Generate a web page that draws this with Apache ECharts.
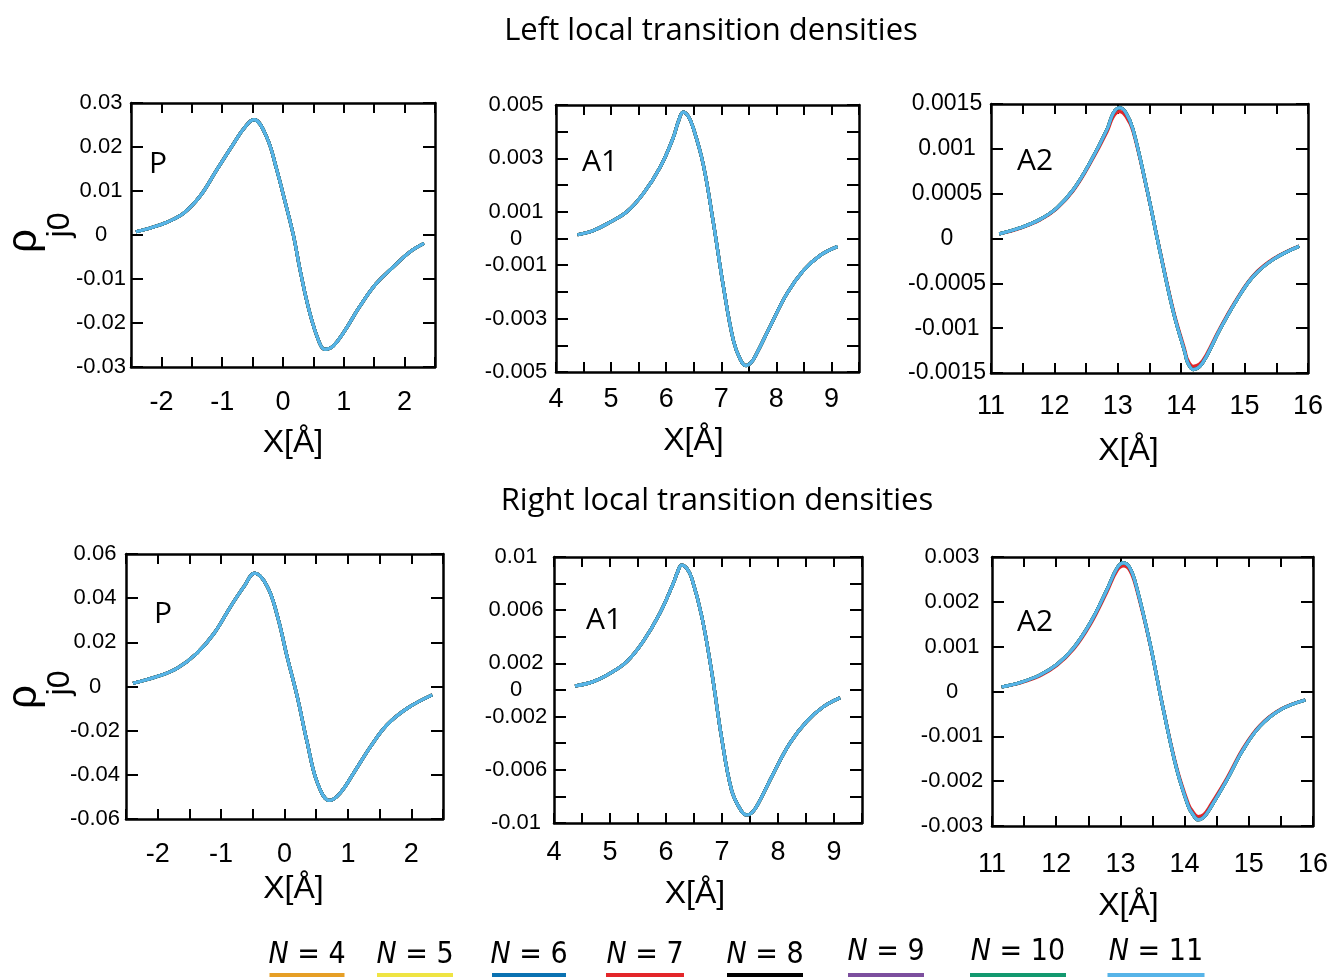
<!DOCTYPE html>
<html>
<head>
<meta charset="utf-8">
<title>Local transition densities</title>
<script src="https://cdn.jsdelivr.net/npm/echarts@6/dist/echarts.min.js"></script>
<style>
  html, body { margin: 0; padding: 0; background: #fff; }
  #chart { width: 1333px; height: 977px; }
</style>
</head>
<body>
<div id="chart"></div>
<script>
// one curve per N in every panel
var nValues = [4, 5, 6, 7, 8, 9, 10, 11]
var nColors = ['#E69F26', '#EFE443', '#0A72B2', '#E3262A', '#000000', '#7C4F9E', '#13996F', '#57B4E8']

// ---- left local transition densities ----
var leftP_x = [-2.42, -2.18, -1.91, -1.63, -1.36, -1.09, -0.81, -0.65, -0.48, -0.27, -0.10, 0.0, 0.17, 0.28, 0.44, 0.60, 0.69, 0.82, 0.99, 1.26, 1.53, 1.81, 2.08, 2.32]
var leftP_y = [0.00075, 0.0016, 0.0029, 0.0050, 0.0089, 0.0148, 0.0208, 0.0241, 0.0262, 0.0223, 0.0147, 0.0094, 0.0, -0.0079, -0.0177, -0.0245, -0.0260, -0.0253, -0.0223, -0.0163, -0.0111, -0.0073, -0.0039, -0.0019]
var leftP_xLabels = ['-2', '-1', '0', '1', '2']
var leftP_yLabels = ['0.03', '0.02', '0.01', '0', '-0.01', '-0.02', '-0.03']

var leftA1_x = [4.39, 4.68, 4.98, 5.28, 5.58, 5.89, 6.13, 6.22, 6.31, 6.40, 6.49, 6.67, 6.85, 7.04, 7.22, 7.35, 7.45, 7.54, 7.64, 7.88, 8.19, 8.49, 8.79, 9.11]
var leftA1_y = [0.00014, 0.0003, 0.00061, 0.00099, 0.00167, 0.00267, 0.00379, 0.00438, 0.00473, 0.00458, 0.00415, 0.0028, 0.00067, -0.00182, -0.00382, -0.00455, -0.00476, -0.00465, -0.00432, -0.00332, -0.00207, -0.0012, -0.00064, -0.0003]
var leftA1_xLabels = ['4', '5', '6', '7', '8', '9']
var leftA1_yLabels = ['0.005', '0.003', '0.001', '0', '-0.001', '-0.003', '-0.005']

var leftA2_x = [11.13, 11.46, 11.77, 12.04, 12.30, 12.56, 12.83, 12.93, 13.03, 13.13, 13.24, 13.46, 13.67, 13.88, 14.06, 14.10, 14.19, 14.29, 14.40, 14.61, 14.88, 15.14, 15.45, 15.86]
var leftA2_y = [0.000052, 0.000119, 0.000212, 0.000342, 0.000547, 0.000845, 0.001217, 0.00140, 0.001458, 0.00140, 0.001217, 0.000547, -0.00016, -0.00083, -0.001276, -0.00138, -0.001462, -0.00143, -0.001313, -0.001016, -0.000681, -0.00042, -0.000234, -0.000086]
var leftA2_y_n7 = [0.000050, 0.000115, 0.000205, 0.000335, 0.000535, 0.000830, 0.001190, 0.00136, 0.001415, 0.00136, 0.001195, 0.000540, -0.00015, -0.00081, -0.001250, -0.00135, -0.001425, -0.00140, -0.001290, -0.001000, -0.000670, -0.00041, -0.000228, -0.000084]
var leftA2_xLabels = ['11', '12', '13', '14', '15', '16']
var leftA2_yLabels = ['0.0015', '0.001', '0.0005', '0', '-0.0005', '-0.001', '-0.0015']

// ---- right local transition densities ----
var rightP_x = [-2.39, -2.01, -1.69, -1.38, -1.11, -0.85, -0.64, -0.47, -0.27, -0.11, 0.04, 0.20, 0.36, 0.52, 0.71, 0.88, 1.09, 1.36, 1.62, 1.94, 2.33]
var rightP_y = [0.0015, 0.0045, 0.0083, 0.0151, 0.0241, 0.0362, 0.0452, 0.0513, 0.0452, 0.0317, 0.0136, -0.0045, -0.0256, -0.0437, -0.0516, -0.0482, -0.0392, -0.0271, -0.0173, -0.0098, -0.0038]
var rightP_xLabels = ['-2', '-1', '0', '1', '2']
var rightP_yLabels = ['0.06', '0.04', '0.02', '0', '-0.02', '-0.04', '-0.06']

var rightA1_x = [4.375, 4.70, 5.00, 5.30, 5.59, 5.89, 6.13, 6.20, 6.28, 6.37, 6.46, 6.64, 6.82, 6.99, 7.17, 7.33, 7.44, 7.54, 7.65, 7.92, 8.21, 8.51, 8.81, 9.11]
var rightA1_y = [0.0003, 0.00063, 0.00125, 0.00213, 0.00363, 0.00577, 0.00802, 0.0088, 0.0094, 0.00915, 0.00840, 0.00551, 0.00125, -0.00351, -0.00752, -0.0090, -0.0094, -0.0092, -0.00852, -0.00626, -0.00401, -0.00238, -0.00126, -0.00058]
var rightA1_xLabels = ['4', '5', '6', '7', '8', '9']
var rightA1_yLabels = ['0.01', '0.006', '0.002', '0', '-0.002', '-0.006', '-0.01']

var rightA2_x = [11.15, 11.44, 11.75, 12.01, 12.27, 12.53, 12.79, 12.95, 13.05, 13.15, 13.25, 13.46, 13.67, 13.88, 14.06, 14.12, 14.21, 14.30, 14.40, 14.66, 14.91, 15.17, 15.49, 15.88]
var rightA2_y = [0.0001, 0.0002, 0.00037, 0.0006, 0.00097, 0.00153, 0.00227, 0.00276, 0.00287, 0.00275, 0.00234, 0.00108, -0.00041, -0.00175, -0.00257, -0.00272, -0.00286, -0.0028, -0.0026, -0.00197, -0.0013, -0.00078, -0.00041, -0.00019]
var rightA2_y_n7 = [0.0001, 0.00019, 0.00035, 0.00058, 0.00094, 0.00149, 0.00222, 0.00270, 0.00280, 0.00269, 0.00229, 0.00106, -0.00040, -0.00171, -0.00251, -0.00266, -0.00279, -0.00274, -0.00254, -0.00193, -0.00127, -0.00076, -0.00040, -0.00019]
var rightA2_xLabels = ['11', '12', '13', '14', '15', '16']
var rightA2_yLabels = ['0.003', '0.002', '0.001', '0', '-0.001', '-0.002', '-0.003']

var tickFont = 'Liberation Sans, Arial, Helvetica, sans-serif'
var textFont = 'Open Sans, Noto Sans, sans-serif'

// box = [left, top, width, height] of each plot frame
var panels = [
  { tag: 'P', xs: leftP_x, ys: leftP_y, ys7: leftP_y, xMin: -2.5, xMax: 2.5, yMin: -0.03, yMax: 0.03, yStep: 0.01,
    xLabels: leftP_xLabels, yLabels: leftP_yLabels, box: [131, 103, 304, 264], yMargin: 30, ySize: 22,
    xMargin: 22, nameGap: 60, nameShift: 10, tagPos: [149, 164] },
  { tag: 'A1', xs: leftA1_x, ys: leftA1_y, ys7: leftA1_y, xMin: 4, xMax: 9.5, yMin: -0.005, yMax: 0.005, yStep: 0.001,
    xLabels: leftA1_xLabels, yLabels: leftA1_yLabels, box: [556, 105, 303, 267], yMargin: 40, ySize: 22,
    xMargin: 14, nameGap: 53, nameShift: -14, tagPos: [582, 162] },
  { tag: 'A2', xs: leftA2_x, ys: leftA2_y, ys7: leftA2_y_n7, xMin: 11, xMax: 16, yMin: -0.0015, yMax: 0.0015, yStep: 0.0005,
    xLabels: leftA2_xLabels, yLabels: leftA2_yLabels, box: [991, 104, 317, 269], yMargin: 44, ySize: 23,
    xMargin: 20, nameGap: 62, nameShift: -21, tagPos: [1017, 161] },
  { tag: 'P', xs: rightP_x, ys: rightP_y, ys7: rightP_y, xMin: -2.5, xMax: 2.5, yMin: -0.06, yMax: 0.06, yStep: 0.02,
    xLabels: rightP_xLabels, yLabels: rightP_yLabels, box: [126, 554, 317, 265], yMargin: 31, ySize: 22,
    xMargin: 22, nameGap: 54, nameShift: 9, tagPos: [154, 614] },
  { tag: 'A1', xs: rightA1_x, ys: rightA1_y, ys7: rightA1_y, xMin: 4, xMax: 9.5, yMin: -0.01, yMax: 0.01, yStep: 0.002,
    xLabels: rightA1_xLabels, yLabels: rightA1_yLabels, box: [554, 557, 308, 266], yMargin: 38, ySize: 22,
    xMargin: 16, nameGap: 55, nameShift: -13, tagPos: [586, 620] },
  { tag: 'A2', xs: rightA2_x, ys: rightA2_y, ys7: rightA2_y_n7, xMin: 11, xMax: 16, yMin: -0.003, yMax: 0.003, yStep: 0.001,
    xLabels: rightA2_xLabels, yLabels: rightA2_yLabels, box: [992, 557, 321, 269], yMargin: 40, ySize: 22,
    xMargin: 25, nameGap: 64, nameShift: -24, tagPos: [1017, 622] }
]

// legend layout: centre x and width of each coloured bar
var legendPos = [[307, 75], [415, 76], [529, 74], [645, 78], [765, 76], [886, 76], [1018, 96], [1156, 97]]

function fmt(v) {
  return String(parseFloat(v.toFixed(6)))
}
function pick(list) {
  return function(v) {
    var s = fmt(v)
    return list.indexOf(s) >= 0 ? s : ''
  }
}

var grid = []
var xAxis = []
var yAxis = []
var series = []
var graphic = []
var frameLine = { color: '#000', width: 2.5 }
var tickLine = { color: '#000', width: 2 }

panels.forEach(function(p, i) {
  grid.push({ left: p.box[0], top: p.box[1], width: p.box[2], height: p.box[3], show: false })

  var pad = p.nameShift > 0 ? [0, 0, 0, 2 * p.nameShift] : [0, -2 * p.nameShift, 0, 0]
  xAxis.push({
    gridIndex: i, type: 'value', position: 'bottom', min: p.xMin, max: p.xMax, interval: 0.5,
    axisLine: { onZero: false, lineStyle: frameLine },
    axisTick: { inside: true, length: 10, lineStyle: tickLine },
    axisLabel: { margin: p.xMargin, fontSize: 27, color: '#000', fontFamily: tickFont,
      showMinLabel: true, showMaxLabel: true, formatter: pick(p.xLabels) },
    splitLine: { show: false },
    name: 'X[Å]', nameLocation: 'middle', nameGap: p.nameGap,
    nameTextStyle: { fontSize: 32, color: '#000', fontFamily: tickFont, padding: pad }
  })
  xAxis.push({
    gridIndex: i, type: 'value', position: 'top', min: p.xMin, max: p.xMax, interval: 0.5,
    axisLine: { onZero: false, lineStyle: frameLine },
    axisTick: { inside: true, length: 10, lineStyle: tickLine },
    axisLabel: { show: false },
    splitLine: { show: false }
  })
  yAxis.push({
    gridIndex: i, type: 'value', position: 'left', min: p.yMin, max: p.yMax, interval: p.yStep,
    axisLine: { onZero: false, lineStyle: frameLine },
    axisTick: { inside: true, length: 12, lineStyle: tickLine },
    axisLabel: { margin: p.yMargin, align: 'center', fontSize: p.ySize, color: '#000', fontFamily: tickFont,
      showMinLabel: true, showMaxLabel: true, formatter: pick(p.yLabels) },
    splitLine: { show: false }
  })
  yAxis.push({
    gridIndex: i, type: 'value', position: 'right', min: p.yMin, max: p.yMax, interval: p.yStep,
    axisLine: { onZero: false, lineStyle: frameLine },
    axisTick: { inside: true, length: 12, lineStyle: tickLine },
    axisLabel: { show: false },
    splitLine: { show: false }
  })

  nValues.forEach(function(n, k) {
    var ys = n === 7 ? p.ys7 : p.ys
    series.push({
      type: 'line',
      name: 'N = ' + n,
      xAxisIndex: 2 * i,
      yAxisIndex: 2 * i,
      smooth: 0.4,
      symbol: 'none',
      silent: true,
      lineStyle: { color: nColors[k], width: 3.2 },
      data: p.xs.map(function(x, j) { return [x, ys[j]] })
    })
  })

  graphic.push({
    type: 'text', x: p.tagPos[0], y: p.tagPos[1],
    style: { text: p.tag, fontSize: 30, fontFamily: textFont, fill: '#000', align: 'left', verticalAlign: 'middle' }
  })
})

// rho_j0 y-axis names (rotated)
;[[241, 225], [697, 683]].forEach(function(c) {
  graphic.push({ type: 'text', x: 24, y: c[0], rotation: Math.PI / 2,
    style: { text: 'ρ', fontSize: 42, fontFamily: tickFont, fill: '#000', align: 'center', verticalAlign: 'middle' } })
  graphic.push({ type: 'text', x: 60, y: c[1], rotation: Math.PI / 2,
    style: { text: 'j0', fontSize: 32, fontFamily: tickFont, fill: '#000', align: 'center', verticalAlign: 'middle' } })
})

// legend: label above a coloured bar
nValues.forEach(function(n, k) {
  var cx = legendPos[k][0]
  var w = legendPos[k][1]
  graphic.push({
    type: 'text', x: cx, y: k >= 5 ? 952 : 955,
    style: {
      text: '{i|N} = ' + n,
      fontSize: 30, fontFamily: 'Liberation Sans Narrow, DejaVu Sans Condensed, sans-serif', fill: '#000',
      align: 'center', verticalAlign: 'middle',
      rich: { i: { fontStyle: 'italic', fontSize: 30, fontFamily: 'Liberation Sans Narrow, DejaVu Sans Condensed, sans-serif' } }
    }
  })
  graphic.push({
    type: 'rect', shape: { x: cx - w / 2, y: 973, width: w, height: 4 },
    style: { fill: nColors[k] }
  })
})

var chart = echarts.init(document.getElementById('chart'))
chart.setOption({
  animation: false,
  backgroundColor: '#fff',
  title: [
    { text: 'Left local transition densities', left: 706, top: 11, textAlign: 'center',
      textStyle: { fontSize: 31, fontWeight: 'normal', color: '#000', fontFamily: textFont } },
    { text: 'Right local transition densities', left: 712, top: 481, textAlign: 'center',
      textStyle: { fontSize: 31, fontWeight: 'normal', color: '#000', fontFamily: textFont } }
  ],
  grid: grid,
  xAxis: xAxis,
  yAxis: yAxis,
  series: series,
  graphic: graphic
})
</script>
</body>
</html>
